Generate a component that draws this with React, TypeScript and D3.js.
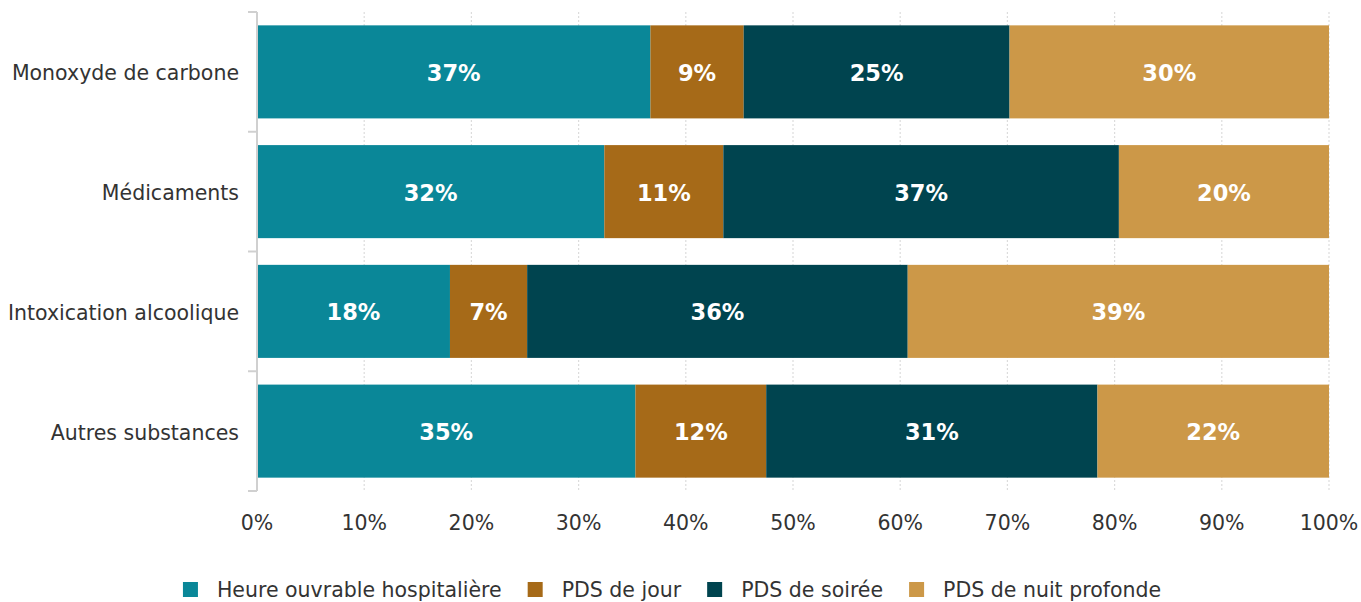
import React from "react";
import * as d3 from "d3";

const categories = ["Monoxyde de carbone", "Médicaments", "Intoxication alcoolique", "Autres substances"];
const seriesNames = ["Heure ouvrable hospitalière", "PDS de jour", "PDS de soirée", "PDS de nuit profonde"];
const seriesColors = ["#0a8798", "#a66a18", "#00444f", "#cc9848"];
const heureOuvrable = [36.7, 32.4, 18.0, 35.3];
const pdsJour = [8.7, 11.1, 7.2, 12.2];
const pdsSoiree = [24.8, 36.9, 35.5, 30.9];
const pdsNuit = [29.8, 19.6, 39.3, 21.6];
const xTicks = [0, 10, 20, 30, 40, 50, 60, 70, 80, 90, 100];

const W = 1361;
const H = 602;
const FONT = "'DejaVu Sans', Verdana, sans-serif";
const TEXT = "#333333";

function measure(text: string, font: string): number {
  if (typeof document === "undefined") return text.length * 11;
  const c = document.createElement("canvas");
  const ctx = c.getContext("2d");
  if (!ctx) return text.length * 11;
  ctx.font = font;
  return ctx.measureText(text).width;
}

export default function App() {
  const left = 257;
  const right = 1329;
  const top = 12;
  const bottom = 491;

  const x = d3.scaleLinear().domain([0, 100]).range([left, right]);
  const y = d3.scaleBand<string>().domain(categories).range([top, bottom]).paddingInner(0.223).paddingOuter(0.1115);
  const step = (bottom - top) / categories.length;

  const rows = categories.map((c, i) => ({
    cat: c,
    values: [heureOuvrable[i], pdsJour[i], pdsSoiree[i], pdsNuit[i]],
  }));
  const stack = d3.stack<any>().keys(["0", "1", "2", "3"]).value((d: any, k: string) => d.values[+k]);
  const stacked = stack(rows as any);

  const legendSize = 20.5;
  const legendFont = `${legendSize}px DejaVu Sans`;
  const sq = 15;
  const sqGap = 19;
  const itemGap = 26;
  const widths = seriesNames.map((s) => measure(s, legendFont));
  const total = widths.reduce((a, w) => a + sq + sqGap + w, 0) + itemGap * (seriesNames.length - 1);
  let lx = 672 - total / 2;
  const legendItems = seriesNames.map((s, i) => {
    const item = { name: s, color: seriesColors[i], x: lx };
    lx += sq + sqGap + widths[i] + itemGap;
    return item;
  });

  return (
    <svg width={W} height={H} style={{ position: "absolute", left: 0, top: 0, background: "#fff" }} fontFamily={FONT}>
      {xTicks.slice(1).map((t) => (
        <line key={"g" + t} x1={x(t)} x2={x(t)} y1={top} y2={bottom} stroke="#dcdcdc" strokeWidth={1.2} strokeDasharray="2,2" />
      ))}
      {stacked.map((layer, si) =>
        layer.map((seg, ci) => {
          const x0 = x(seg[0]);
          const x1 = x(seg[1]);
          const yy = y(categories[ci]) as number;
          const v = seg[1] - seg[0];
          return (
            <g key={si + "-" + ci}>
              <rect x={x0} y={yy} width={x1 - x0} height={y.bandwidth()} fill={seriesColors[si]} />
              <text
                x={(x0 + x1) / 2}
                y={yy + y.bandwidth() / 2 + 1}
                dy="0.36em"
                textAnchor="middle"
                fill="#ffffff"
                fontWeight="bold"
                fontSize={22.5}
              >
                {Math.round(v) + "%"}
              </text>
            </g>
          );
        })
      )}
      <line x1={left} x2={left} y1={top} y2={bottom} stroke="#d0d0d0" strokeWidth={2} />
      {d3.range(categories.length + 1).map((i) => (
        <line key={"t" + i} x1={left - 9} x2={left} y1={top + i * step} y2={top + i * step} stroke="#d0d0d0" strokeWidth={2} />
      ))}
      {categories.map((c) => (
        <text key={c} x={239} y={(y(c) as number) + y.bandwidth() / 2 + 1} dy="0.36em" textAnchor="end" fill={TEXT} fontSize={20.5}>
          {c}
        </text>
      ))}
      {xTicks.map((t) => (
        <text key={"l" + t} x={x(t)} y={523} dy="0.36em" textAnchor="middle" fill={TEXT} fontSize={20.5}>
          {t + "%"}
        </text>
      ))}
      {legendItems.map((it) => (
        <g key={it.name}>
          <rect x={it.x} y={582} width={sq} height={sq} fill={it.color} />
          <text x={it.x + sq + sqGap} y={590} dy="0.36em" fill={TEXT} fontSize={legendSize}>
            {it.name}
          </text>
        </g>
      ))}
    </svg>
  );
}
